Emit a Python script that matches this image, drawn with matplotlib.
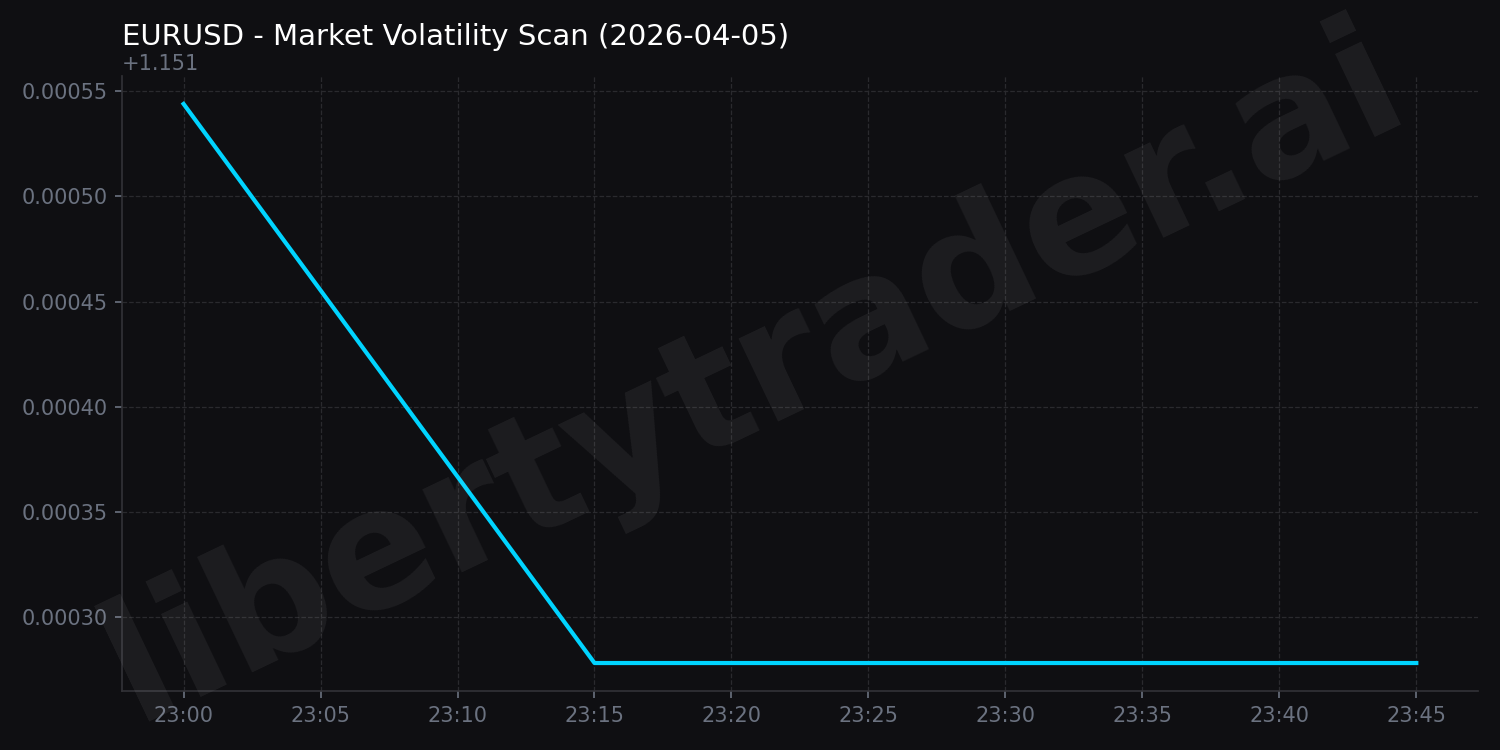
import matplotlib
matplotlib.use("Agg")
import matplotlib.pyplot as plt
import matplotlib.dates as mdates
import pandas as pd

# EURUSD scan values (15 min bars)
times = ["2026-04-05 23:00", "2026-04-05 23:15", "2026-04-05 23:30", "2026-04-05 23:45"]
prices = [1.151544, 1.151278, 1.151278, 1.151278]

BG = "#0f0f12"
LINE = "#00d4ff"
TXT = "#6b7280"

x = pd.to_datetime(times)

fig, ax = plt.subplots(figsize=(10, 5), dpi=150)
fig.patch.set_facecolor(BG)
ax.set_facecolor(BG)

ax.plot(x, prices, color=LINE, linewidth=2)

ax.set_title("EURUSD - Market Volatility Scan (2026-04-05)", loc="left",
             color="white", fontsize=14, y=1.0, pad=15)

ax.xaxis.set_major_locator(mdates.MinuteLocator(byminute=range(0, 60, 5)))
ax.xaxis.set_major_formatter(mdates.DateFormatter("%H:%M"))

ax.grid(True, color="#2a2a2e", linestyle="--", linewidth=0.6)
for s in ["top", "right"]:
    ax.spines[s].set_visible(False)
for s in ["left", "bottom"]:
    ax.spines[s].set_color("#333338")
ax.tick_params(colors=TXT, labelcolor=TXT)
ax.yaxis.get_offset_text().set_color(TXT)

# watermark
fig.text(0.503, 0.5, "libertytrader.ai", fontsize=80, fontweight="bold",
         color="white", alpha=0.06, rotation=25.5, ha="center", va="center")

fig.subplots_adjust(left=0.0813, right=0.9853, top=0.8987, bottom=0.0787)
fig.savefig("out.png", dpi=150, facecolor=BG)
